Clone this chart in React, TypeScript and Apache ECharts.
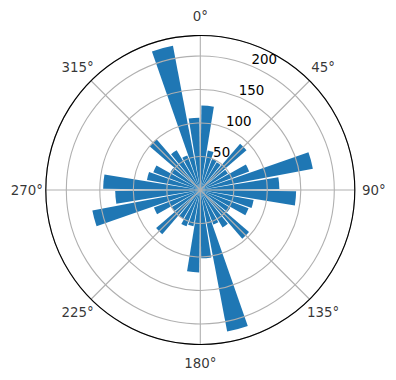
import React, { useEffect, useRef } from "react";
import * as echarts from "echarts";

// Bin centres (degrees, clockwise from north) and bar heights
const directions: number[] = [
  5, 15, 25, 35, 45, 55, 65, 75, 85, 95, 105, 115, 125, 135, 145, 155, 165, 175,
  185, 195, 205, 215, 225, 235, 245, 255, 265, 275, 285, 295, 305, 315, 325, 335, 345, 355,
];
const counts: number[] = [
  126, 60, 50, 48, 91, 48, 78, 171, 118, 143, 81, 77, 52, 96, 65, 55, 215, 102,
  123, 55, 58, 50, 87, 50, 74, 164, 127, 145, 81, 75, 52, 100, 69, 55, 219, 108,
];
const radialTicks: number[] = [50, 100, 150, 200];
const angleTicks: number[] = [0, 45, 90, 135, 180, 225, 270, 315];
const rMax = 230.6;
// radius (in data units) at which the angle labels are centred, outside the frame
const angleLabelRadius = 259;

const FONT = "DejaVu Sans";
const FS = 13.4;

export default function App() {
  const ref = useRef<HTMLDivElement>(null);
  useEffect(() => {
    if (!ref.current) return;
    const chart = echarts.init(ref.current, null, { renderer: "svg" });
    const center = [200.3, 190];
    const radius = 154.5;
    chart.setOption({
      animation: false,
      polar: [
        { center, radius },
        { center, radius },
      ],
      angleAxis: [
        {
          polarIndex: 0,
          type: "value",
          min: 0,
          max: 360,
          interval: 45,
          startAngle: 90,
          clockwise: true,
          z: 10,
          axisLine: { show: true, lineStyle: { color: "#000", width: 1.1 } },
          axisTick: { show: false },
          axisLabel: { show: false },
          splitLine: { show: true, lineStyle: { color: "#b0b0b0", width: 1.1 } },
        },
        {
          polarIndex: 1,
          type: "value",
          min: 0,
          max: 360,
          startAngle: 67.5,
          clockwise: true,
          show: false,
        },
      ],
      radiusAxis: [
        {
          polarIndex: 0,
          type: "value",
          min: 0,
          max: rMax,
          interval: 50,
          z: 10,
          axisLine: { show: false },
          axisTick: { show: false },
          axisLabel: { show: false },
          splitLine: {
            show: true,
            lineStyle: { color: "#b0b0b0", width: 1.1 },
          },
        },
        {
          polarIndex: 1,
          type: "value",
          min: 0,
          max: rMax,
          interval: 50,
          z: 11,
          axisLine: { show: false },
          axisTick: { show: false },
          splitLine: { show: false },
          axisLabel: {
            show: true,
            margin: 0,
            align: "left",
            verticalAlign: "bottom",
            color: "#000",
            fontFamily: FONT,
            fontSize: FS,
            formatter: (v: number) => (radialTicks.includes(v) ? String(v) : ""),
          },
        },
      ],
      series: [
        {
          type: "bar",
          coordinateSystem: "polar",
          polarIndex: 0,
          barWidth: "85%",
          itemStyle: { color: "#1f77b4" },
          data: directions.map((d, i) => [counts[i], d]),
        },
        {
          type: "scatter",
          coordinateSystem: "polar",
          polarIndex: 0,
          clip: false,
          symbolSize: 0,
          silent: true,
          z: 12,
          itemStyle: { color: "rgba(0,0,0,0)" },
          label: {
            show: true,
            position: "inside",
            align: "center",
            verticalAlign: "middle",
            color: "#000",
            fontFamily: FONT,
            fontSize: FS,
            formatter: (p: any) => `${p.value[1]}°`,
          },
          data: angleTicks.map((a) => [angleLabelRadius, a]),
        },
      ],
    });
    return () => chart.dispose();
  }, []);
  return (
    <div
      ref={ref}
      style={{ position: "absolute", left: 0, top: 0, width: 396, height: 380 }}
    />
  );
}
